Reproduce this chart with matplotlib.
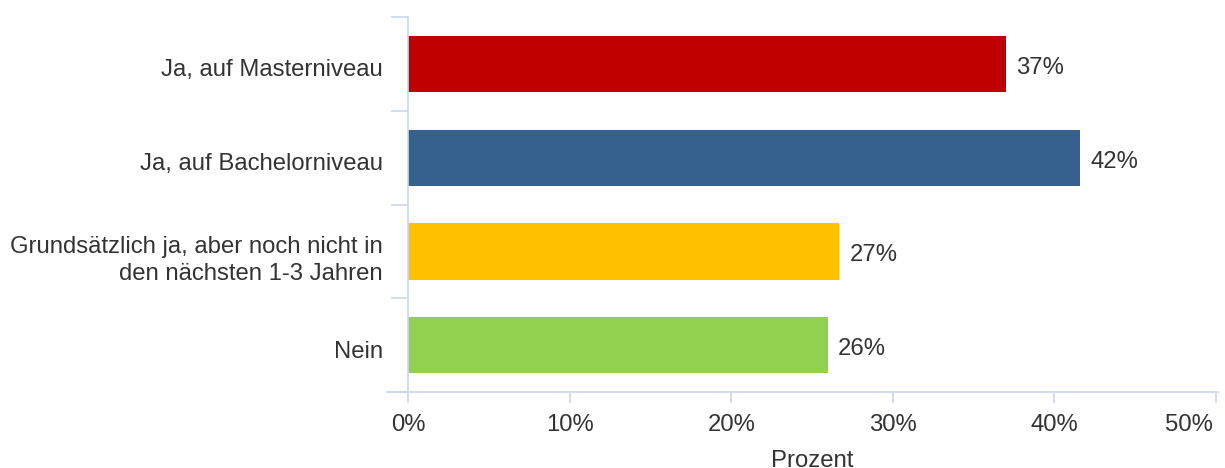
import matplotlib.pyplot as plt
from matplotlib.lines import Line2D
from matplotlib.transforms import ScaledTranslation

# Data
categories = ['Ja, auf Masterniveau', 'Ja, auf Bachelorniveau',
              'Grundsätzlich ja, aber noch nicht in\nden nächsten 1-3 Jahren', 'Nein']
values = [37.0, 41.6, 26.7, 26.0]
colors = ['#C00000', '#36618F', '#FFC000', '#92D050']
xticks = [0, 10, 20, 30, 40, 50]

axis_col = '#CCD6EB'
text_col = '#333333'
fs = 17.2

plt.rcParams['font.family'] = ['Liberation Sans', 'DejaVu Sans']

fig = plt.figure(figsize=(12.25, 4.68), dpi=100)
ax = fig.add_axes([408/1225, 1 - 392/468, (1216 - 408)/1225, (392 - 17)/468])

y = list(range(len(categories)))
ax.barh(y, values, height=0.6, color=colors, zorder=2)

for yi, v in zip(y, values):
    ax.annotate(f'{v:.0f}%', (v, yi), xytext=(10, -4), textcoords='offset pixels',
                va='center', ha='left', fontsize=fs, color=text_col)

ax.set_xlim(0, 50)
ax.set_ylim(len(categories) - 0.5, -0.5)

ax.set_yticks(y)
ax.set_yticklabels(categories, fontsize=fs, color=text_col, linespacing=1.32)
ax.set_yticks([i - 0.5 for i in range(len(categories) + 1)], minor=True)
ax.tick_params(axis='y', which='major', length=0, pad=18)
ax.tick_params(axis='y', which='minor', length=12.5, width=1.2, color=axis_col)
shift_down = ScaledTranslation(0, -4/100, fig.dpi_scale_trans)
for lab in ax.get_yticklabels():
    lab.set_transform(lab.get_transform() + shift_down)

ax.set_xticks(xticks)
ax.set_xticklabels([f'{t}%' for t in xticks], fontsize=fs, color=text_col)
ax.tick_params(axis='x', length=8, width=1.2, color=axis_col, pad=8)
ax.set_xlabel('Prozent', fontsize=fs, color=text_col, labelpad=10)

# last tick label is pulled inside the figure, like the reference
last = ax.get_xticklabels()[-1]
last.set_ha('right')
last.set_transform(last.get_transform() + ScaledTranslation(-3/100, 0, fig.dpi_scale_trans))

for s in ['top', 'right', 'bottom']:
    ax.spines[s].set_visible(False)
ax.spines['left'].set_color(axis_col)
ax.spines['left'].set_linewidth(1.2)

# x axis line reaching a little left of the plot area
ax.add_line(Line2D([-0.026, 1.003], [0, 0], transform=ax.transAxes, color=axis_col,
                   lw=1.2, clip_on=False, zorder=3))

fig.savefig('out.png', dpi=100)
